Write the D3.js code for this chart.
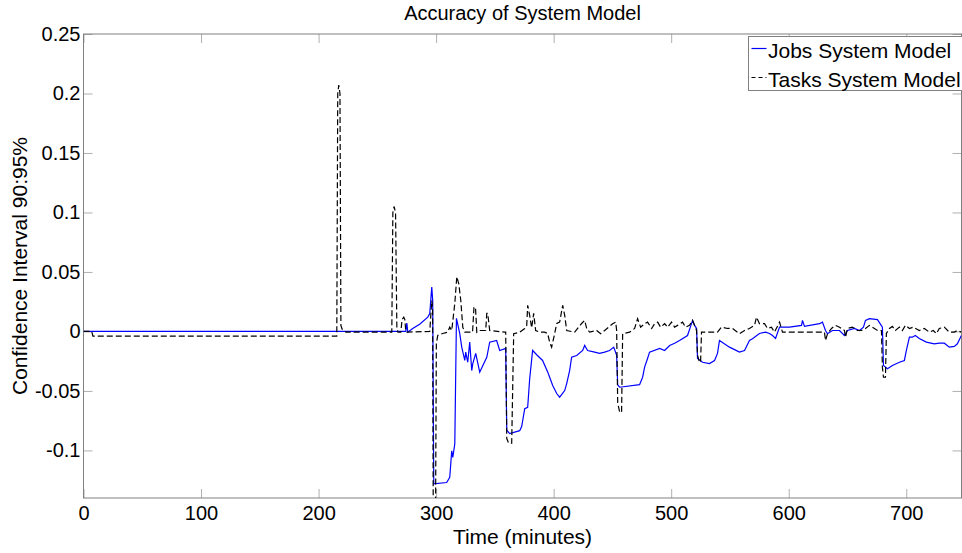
<!DOCTYPE html>
<html>
<head>
<meta charset="utf-8">
<script src="https://cdn.jsdelivr.net/npm/d3@7"></script>
<style>
  html, body { margin: 0; padding: 0; background: #fff; }
  svg { display: block; font-family: "Liberation Sans", Arial, Helvetica, sans-serif; }
</style>
</head>
<body>
<div id="chart"></div>
<script>
// Series: [time (minutes), confidence interval value]
const jobsSeries = [
  [0,0],[274.2,0],[275.1,0.007],[275.9,-0.0006],[280.1,0.0025],[286,0.006],[292.9,0.012],[294.6,0.015],
  [296.3,0.0373],[297.1,0.026],[298,-0.1281],[309,-0.127],[311.6,-0.1227],[313.3,-0.1003],[314.2,-0.1059],
  [315.9,-0.0944],[317.3,0.011],[320.1,-0.0017],[321.8,-0.0132],[324.4,-0.0244],[325.2,-0.0174],[326.9,-0.0259],
  [328.6,-0.009],[330.3,-0.0329],[331.2,-0.027],[333.7,-0.0185],[337.1,-0.0343],[343.1,-0.0217],[345.6,-0.009],
  [351.5,-0.0076],[354.1,-0.016],[359.2,-0.0143],[360.1,-0.083],[362.6,-0.0859],[371.1,-0.0834],[372.8,-0.08],
  [375.4,-0.065],[377.9,-0.0638],[379.6,-0.04],[382.1,-0.016],[386,-0.02],[390.6,-0.0244],[394.9,-0.034],
  [396.6,-0.0385],[399.2,-0.0455],[402.6,-0.0522],[405.1,-0.0553],[409.4,-0.0497],[411.1,-0.0438],[413.6,-0.0329],
  [415.3,-0.0217],[419.6,-0.0202],[424.7,-0.016],[426.4,-0.0118],[428.9,-0.016],[434.9,-0.0174],[439.1,-0.0185],
  [443.4,-0.0174],[447.6,-0.016],[451.1,-0.0132],[453.6,-0.02],[454.5,-0.045],[456.2,-0.0469],[473.1,-0.0447],
  [475.7,-0.0385],[477.4,-0.03],[479.9,-0.0227],[481.6,-0.0174],[490.2,-0.0143],[494.4,-0.016],[498.7,-0.0118],
  [502.9,-0.0099],[507.1,-0.0076],[513.9,-0.0034],[518.2,0.0093],[519.9,0.0051],[521.6,0.0025],[522.4,-0.0227],
  [526.7,-0.0259],[532.6,-0.027],[536.9,-0.0244],[539.4,-0.0185],[541.1,-0.0076],[549.6,-0.0132],[558.1,-0.0174],
  [562.4,-0.016],[566.6,-0.0076],[569.2,-0.0062],[575.1,-0.0017],[580.3,-0.0006],[583.6,-0.0017],[586.2,-0.0034],
  [588.8,-0.0059],[592.2,0.0036],[600.7,0.0036],[610.9,0.0051],[611.7,0.0093],[613.4,0.0042],[626.2,0.0065],
  [628.7,0.0078],[631.3,0.0008],[633,-0.0019],[637.2,0.0008],[643.2,0.0008],[647.4,-0.0034],[650,0.0008],
  [655.9,0.0025],[660.2,0.0008],[663.6,0.0036],[665.3,0.0093],[668.7,0.0107],[675.5,0.0099],[679.7,0.0036],
  [680.6,-0.0286],[684,-0.0314],[688.2,-0.0286],[694.2,-0.0259],[698.4,-0.0244],[700.1,-0.016],[702.7,-0.0048],
  [705.2,-0.0048],[707.7,-0.0034],[711.1,-0.0059],[717.1,-0.009],[723.9,-0.0104],[728.1,-0.0099],[732.4,-0.0099],
  [736.6,-0.0132],[740.9,-0.0126],[743.5,-0.0104],[746.9,-0.0034]
];

const tasksSeries = [
  [0,0],[7,0],[8,-0.004],[215.5,-0.004],[216.3,0.2],[217.2,0.207],[218.2,0.2],[219,0.005],[220,0.002],
  [223.2,-0.0006],[262.3,-0.0006],[263.2,0.1],[264.2,0.105],[265.5,0.1],[266.6,0.003],[267.5,-0.0006],
  [270,-0.0006],[271,0.01],[272.5,0.012],[273.4,0.01],[274.2,0],[275,-0.0006],[294.6,0],[296.3,0.026],
  [297,0.02],[297.6,-0.16],[299.5,-0.16],[300.2,-0.01],[301.4,-0.0034],[305.6,-0.0017],[309.9,-0.0006],
  [311.6,0.0036],[313.3,0.0008],[315.9,0.0236],[317.6,0.046],[319.3,0.04],[321,0.026],[322.7,0.0036],
  [324.4,-0.0006],[331,-0.0006],[332.2,0.02],[333.5,0.0205],[334.6,-0.0006],[336.3,0.0008],[342.2,0.0008],
  [343.1,0.0152],[343.9,0.0152],[345.6,0.0008],[358.4,-0.0006],[359.2,-0.0006],[360.1,-0.09],[361.8,-0.094],
  [364.3,-0.094],[366,-0.0019],[371.1,-0.0006],[375.4,0.0025],[377.1,0.0051],[377.9,0.0219],[379.6,0.0135],
  [381.3,0.003],[383,0.0152],[384.7,0.0008],[388.1,-0.0006],[392.3,-0.0006],[394.9,-0.0017],[396.6,-0.009],
  [398.3,-0.0132],[400.9,-0.0017],[402.6,0.0067],[405.1,0.0078],[407.7,0.0219],[409.4,0.0135],[411.1,0.0008],
  [417.9,-0.0006],[423.8,0.0067],[426.4,0.0093],[428.1,0.0025],[430.6,-0.0006],[436.6,0.0008],[440,-0.0019],
  [443.4,0.0008],[450.2,0.0065],[452.8,0.0078],[453.6,0.0008],[454.5,-0.06],[456.2,-0.068],[457.8,-0.068],
  [458.7,-0.0019],[464.6,-0.0006],[468.9,0.0025],[471.4,0.0107],[474,0.0036],[477.4,0.0065],[479.9,0.0078],
  [483.4,0.0025],[485.9,0.0065],[488.5,0.0078],[491,0.0036],[494.4,0.0065],[497,0.0036],[500.3,0.0078],
  [502.9,0.0036],[505.4,0.0051],[509.7,0.0078],[512.2,0.0036],[515.6,0.0051],[518.2,0.0093],[521.6,0.0008],
  [522.4,-0.02],[524.1,-0.0259],[525,-0.0259],[525.8,-0.0006],[528.4,-0.0006],[539.4,-0.0006],[542.8,0.0036],
  [547.9,0.0025],[552.2,0.0025],[558.1,-0.0019],[562.4,0.0008],[566.6,0.0025],[570.9,0.0051],[572.6,0.012],
  [575.1,0.0065],[579.4,0.0065],[582,0.0025],[585.3,0.0036],[587.9,-0.0006],[592.2,0.0078],[594.7,-0.0006],
  [630.4,-0.0006],[631.3,-0.0076],[633,-0.0019],[636.4,0.0025],[639.8,0.0051],[643.2,0.0036],[647.4,0.0008],
  [648.3,-0.0048],[650,0.0025],[654.2,0.0036],[658.5,0.0008],[661.9,0.0008],[665.3,0.0025],[668.7,0.0051],
  [671.2,0.0036],[675.5,0.0008],[678.9,0.0008],[679.7,-0.03],[680.6,-0.0385],[682.3,-0.0385],[683.1,-0.0017],
  [685.7,0.0025],[688.2,0.0042],[690.8,0.0008],[694.2,0.0036],[696.7,0.0008],[699.3,0.0051],[702.7,0.0025],
  [706.1,0.0036],[711.1,0.0008],[715.4,0.0025],[719.6,-0.0006],[723,0.0008],[725.6,-0.0019],[728.1,0.0025],
  [732.4,0.0036],[736.6,-0.0006],[740.9,-0.0006],[743.5,0.0008],[746.9,-0.0006]
];

const xTicks = [0, 100, 200, 300, 400, 500, 600, 700];
const yTicks = [-0.1, -0.05, 0, 0.05, 0.1, 0.15, 0.2, 0.25];
const seriesNames = ["Jobs System Model", "Tasks System Model"];

const W = 962, H = 553;
const margin = { top: 34, right: 0.5, bottom: 55, left: 83.5 },
      width = W - margin.left - margin.right,
      height = H - margin.top - margin.bottom;

const svg = d3.select("#chart")
  .append("svg")
  .attr("width", W)
  .attr("height", H);

const g = svg.append("g")
  .attr("transform", `translate(${margin.left},${margin.top})`);

const x = d3.scaleLinear().domain([0, 747]).range([0, width]);
const y = d3.scaleLinear().domain([-0.14, 0.25]).range([height, 0]);

// clip lines to the axes box
g.append("clipPath").attr("id", "plotClip")
  .append("rect").attr("width", width).attr("height", height);

// Ticks (MATLAB style: inward, on all four sides)
const tickLen = 9;
const fmt = d => String(d);

const xb = g.append("g").attr("transform", `translate(0,${height})`)
  .call(d3.axisBottom(x).tickValues(xTicks).tickSize(-tickLen).tickPadding(8).tickFormat(fmt));
const xt = g.append("g")
  .call(d3.axisTop(x).tickValues(xTicks).tickSize(-tickLen).tickFormat(""));
const yl = g.append("g")
  .call(d3.axisLeft(y).tickValues(yTicks).tickSize(-tickLen).tickPadding(3).tickFormat(fmt));
const yr = g.append("g").attr("transform", `translate(${width},0)`)
  .call(d3.axisRight(y).tickValues(yTicks).tickSize(-tickLen).tickFormat(""));

[xb, xt, yl, yr].forEach(a => {
  a.select(".domain").remove();
  a.selectAll(".tick line").attr("stroke", "#b0b0b0");
  a.selectAll(".tick text").attr("fill", "#000").attr("font-size", 20)
    .attr("font-family", "Liberation Sans, Arial, sans-serif");
});

// axes box
g.append("rect")
  .attr("width", width)
  .attr("height", height)
  .attr("fill", "none")
  .attr("stroke", "#808080")
  .attr("stroke-width", 1);

const line = d3.line().x(d => x(d[0])).y(d => y(d[1]));

const plot = g.append("g").attr("clip-path", "url(#plotClip)");

plot.append("path")
  .datum(jobsSeries)
  .attr("d", line)
  .attr("fill", "none")
  .attr("stroke", "#0000ff")
  .attr("stroke-width", 1.2);

plot.append("path")
  .datum(tasksSeries)
  .attr("d", line)
  .attr("fill", "none")
  .attr("stroke", "#000")
  .attr("stroke-width", 1.2)
  .attr("stroke-dasharray", "6,3");

// Title and axis labels
svg.append("text")
  .attr("x", margin.left + width / 2)
  .attr("y", 20)
  .attr("text-anchor", "middle")
  .attr("font-size", 20)
  .text("Accuracy of System Model");

svg.append("text")
  .attr("x", margin.left + width / 2)
  .attr("y", 544)
  .attr("text-anchor", "middle")
  .attr("font-size", 21)
  .text("Time (minutes)");

svg.append("text")
  .attr("transform", `translate(27,${margin.top + height / 2}) rotate(-90)`)
  .attr("text-anchor", "middle")
  .attr("font-size", 21)
  .text("Confidence Interval 90:95%");

// Legend
const legend = svg.append("g").attr("transform", "translate(748.5,36.5)");
legend.append("rect")
  .attr("width", 230)
  .attr("height", 54)
  .attr("fill", "#fff")
  .attr("stroke", "#808080");

const legendStyles = [
  { stroke: "#0000ff", dash: null },
  { stroke: "#000", dash: "4,3" }
];
seriesNames.forEach((name, i) => {
  const ly = 12 + i * 29;
  legend.append("line")
    .attr("x1", 3).attr("x2", 18)
    .attr("y1", ly).attr("y2", ly)
    .attr("stroke", legendStyles[i].stroke)
    .attr("stroke-width", 1.2)
    .attr("stroke-dasharray", legendStyles[i].dash);
  legend.append("text")
    .attr("x", 19.5)
    .attr("y", ly + 9)
    .attr("font-size", 21)
    .text(name);
});
</script>
</body>
</html>
